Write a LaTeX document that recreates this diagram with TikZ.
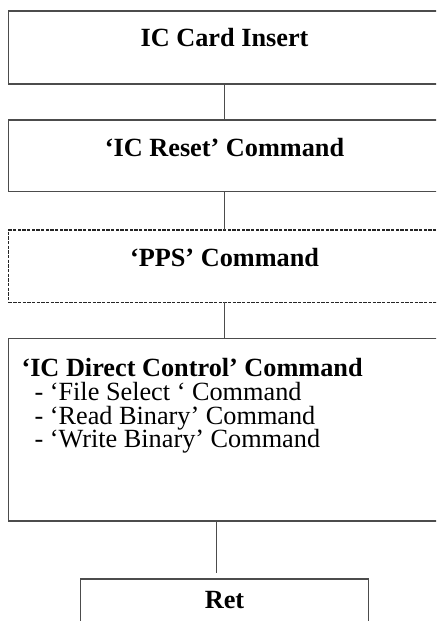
\documentclass[tikz,border=0pt]{standalone}
\usepackage{fontspec}
\setmainfont{Liberation Serif}
\usetikzlibrary{positioning}
\tikzset{
  stage/.style={draw=black!70, line width=0.8pt, minimum width=324pt,
    inner sep=0pt, outer sep=0pt, font=\fontsize{19.7}{17.8}\selectfont\bfseries},
  optional/.style={stage, draw=black!85, dash pattern=on 2.5pt off 1pt},
  link/.style={draw=black!70, line width=0.8pt}
}
\begin{document}
\begin{tikzpicture}[node distance=27pt]
   \useasboundingbox (0,0) rectangle (327pt,-465.75pt);
   \clip (0,0) rectangle (327pt,-465.75pt);
   \node[stage, anchor=north, text height=26.75pt, text depth=28pt] (insert) at (168.4pt,-8.25pt) {IC Card Insert};
   \node[stage, text height=27.5pt, text depth=26.25pt] (reset) [below=of insert] {`IC Reset' Command};
   \node[optional, text height=27.5pt, text depth=26.75pt] (pps) [below=28.75pt of reset] {`PPS' Command};
   \node[stage, text height=28.8pt, text depth=108.2pt, inner xsep=9.75pt] (direct) [below=of pps]
      {\parbox[t]{304.5pt}{\raggedright\lineskiplimit=-20pt
       `IC Direct Control' Command\\
       \mdseries\hspace*{9.75pt}- `File Select ` Command\\
       \hspace*{9.75pt}- `Read Binary' Command\\
       \hspace*{9.75pt}- `Write Binary' Command}};
   \node[stage, minimum width=216pt, text height=22pt, text depth=30pt] (ret) [below=43.5pt of direct] {Ret};
%   connectors
   \draw[link] (insert) -- (reset);
   \draw[link] (reset) -- (pps);
   \draw[link] (pps) -- (direct);
   \draw[link, shorten >=4.5pt] ([xshift=-5.85pt]direct.south) -- ([xshift=-5.85pt]direct.south |- ret.north);
\end{tikzpicture}
\end{document}
